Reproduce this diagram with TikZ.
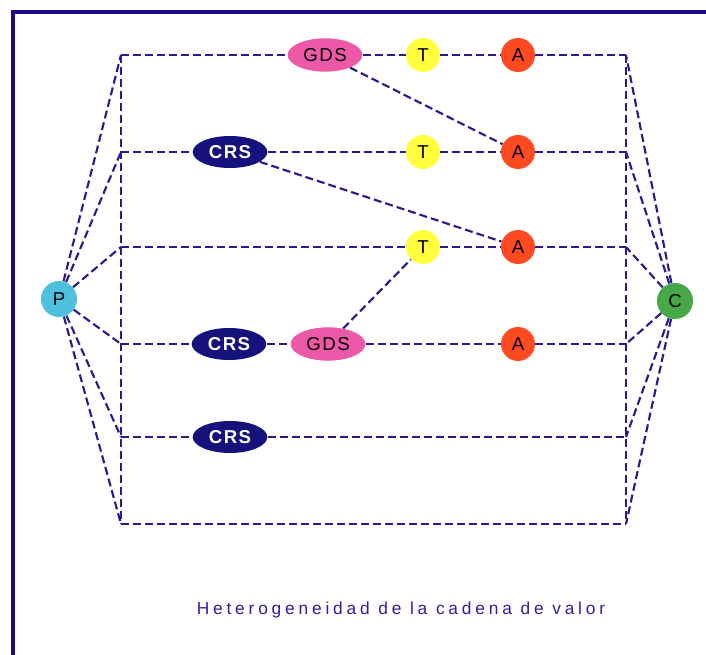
\documentclass[tikz,border=0pt]{standalone}
\usepackage{fontspec}
\setmainfont{Liberation Sans}
\newfontfamily\capfont[LetterSpace=22]{Liberation Sans}
\newfontfamily\nodefont[LetterSpace=8]{Liberation Sans}
\usetikzlibrary{shapes.geometric,backgrounds}
\definecolor{linecol}{HTML}{2A1B8C}
\definecolor{framecol}{HTML}{1C0C82}
\definecolor{crscol}{HTML}{15127C}
\definecolor{gdscol}{HTML}{EE58A8}
\definecolor{tcol}{HTML}{FFFF40}
\definecolor{acol}{HTML}{FF4A22}
\definecolor{pcol}{HTML}{4CC0DC}
\definecolor{ccol}{HTML}{46A846}
\definecolor{capcol}{HTML}{2E1E9E}
\tikzset{
  link/.style={draw=linecol, line width=1.6pt, dash pattern=on 6pt off 3pt},
  ellbox/.style={ellipse, inner sep=0pt, minimum width=56pt, minimum height=25pt, font=\nodefont\fontsize{14}{14}\selectfont},
  gds/.style={ellbox, fill=gdscol, text=black},
  crs/.style={ellbox, fill=crscol, text=white, minimum height=24pt, font=\nodefont\bfseries\fontsize{14}{14}\selectfont},
  circbox/.style={circle, inner sep=0pt, minimum size=25.5pt, font=\fontsize{14}{14}\selectfont, text=black},
  tnode/.style={circbox, fill=tcol},
  anode/.style={circbox, fill=acol},
  endnode/.style={circle, inner sep=0pt, minimum size=27pt, font=\fontsize{14}{14}\selectfont, text=black}
}
\begin{document}
\begin{tikzpicture}[x=0.75pt,y=-0.75pt]
\useasboundingbox (0,0) rectangle (706,655);
\begin{scope}
\clip (0,0) rectangle (706,655);
\draw[framecol, line width=2.6pt] (13,12) rectangle (740,690);
\end{scope}

% junction coordinates
\foreach \i/\y in {1/55,2/152,3/247,4/344,5/437,6/524}{
  \coordinate (L\i) at (121,\y);
  \coordinate (R\i) at (626,\y);
}

% nodes
\node[endnode, fill=pcol] (P) at (59,299) {P};
\node[endnode, fill=ccol] (C) at (675,301) {C};

\node[gds] (G1) at (325,55) {GDS};
\node[tnode] (T1) at (423,55) {T};
\node[anode] (A1) at (518,55) {A};

\node[crs] (K2) at (230,152) {CRS};
\node[tnode] (T2) at (423,152) {T};
\node[anode] (A2) at (518,152) {A};

\node[tnode] (T3) at (423,247) {T};
\node[anode] (A3) at (518,247) {A};

\node[crs] (K4) at (229,344) {CRS};
\node[gds] (G4) at (328,344) {GDS};
\node[anode] (A4) at (518,344) {A};

\node[crs] (K5) at (230,437) {CRS};

\node[font=\capfont\fontsize{13}{13}\selectfont, text=capcol] (cap) at (401,610) {Heterogeneidad de la cadena de valor};

\begin{scope}[on background layer]
% rows
\draw[link] (L1) -- (G1) -- (T1) -- (A1) -- (R1);
\draw[link] (L2) -- (K2) -- (T2) -- (A2) -- (R2);
\draw[link] (L3) -- (T3) -- (A3) -- (R3);
\draw[link] (L4) -- (K4) -- (G4) -- (A4) -- (R4);
\draw[link] (L5) -- (K5) -- (R5);
\draw[link] (L6) -- (R6);
% verticals
\draw[link] (L1) -- (L6);
\draw[link] (R1) -- (R6);
% fans
\foreach \i in {1,...,6}{
  \draw[link] (P) -- (L\i);
  \draw[link] (C) -- (R\i);
}
% diagonals
\draw[link] (G1) -- (A2);
\draw[link] (K2) -- (A3);
\draw[link] (G4) -- (T3);
\end{scope}
\end{tikzpicture}
\end{document}
